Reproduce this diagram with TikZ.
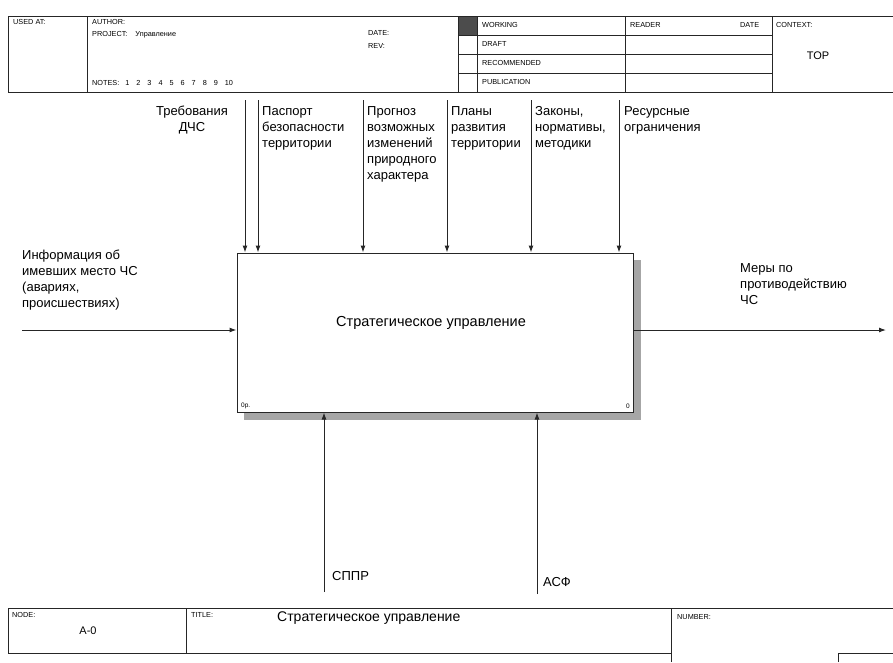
\documentclass[tikz,border=0pt]{standalone}
\usepackage{fontspec}
\setmainfont{Liberation Sans}
\usetikzlibrary{arrows.meta}
\begin{document}
\begin{tikzpicture}[x=1pt,y=-1pt,
  frame/.style={draw=black!85, line width=0.8pt},
  hdr/.style={font=\fontsize{7.3}{8}\selectfont, anchor=north west, inner sep=0pt},
  lbl/.style={font=\fontsize{13}{16}\selectfont, align=left, anchor=north west, inner sep=0pt},
  flow/.style={draw=black!85, line width=1pt, -{Latex[length=7pt,width=5pt]}},
  mainbox/.style={draw=black!85, line width=1pt, fill=white, minimum width=396pt, minimum height=159pt, inner sep=0pt},
]
\useasboundingbox (0,0) rectangle (893,662);
\fill[white] (0,0) rectangle (893,662);

% ---------- header ----------
\draw[frame] (893,16) -- (8,16) -- (8,92) -- (893,92);
\foreach \x in {87,458,477,625,772} \draw[frame] (\x,16) -- (\x,92);
\foreach \y in {35,54,73} \draw[frame] (458,\y) -- (772,\y);
\fill[black!70] (458.5,16.5) rectangle (476.5,34.5);
\node[hdr] (usedat) at (13,19) {USED AT:};
\node[hdr] (author) at (92,19) {AUTHOR:};
\node[hdr] (project) at (92,31) {PROJECT:\hspace{8pt}Управление};
\node[hdr] (notes) at (92,80) {NOTES:\hspace{6pt}1\hspace{7pt}2\hspace{7pt}3\hspace{7pt}4\hspace{7pt}5\hspace{7pt}6\hspace{7pt}7\hspace{7pt}8\hspace{7pt}9\hspace{7pt}10};
\node[hdr] (date1) at (368,30) {DATE:};
\node[hdr] (rev) at (368,43) {REV:};
\node[hdr] (working) at (482,22) {WORKING};
\node[hdr] (draft) at (482,41) {DRAFT};
\node[hdr] (recom) at (482,60) {RECOMMENDED};
\node[hdr] (publ) at (482,79) {PUBLICATION};
\node[hdr] (reader) at (630,22) {READER};
\node[hdr] (date2) at (740,22) {DATE};
\node[hdr] (context) at (776,22) {CONTEXT:};
\node[font=\fontsize{11}{13}\selectfont, inner sep=0pt] (top) at (818,56) {TOP};

% ---------- footer ----------
\draw[frame] (893,608) -- (8,608) -- (8,653) -- (671,653);
\draw[frame] (186,608) -- (186,653);
\draw[frame] (671,608) -- (671,662);
\draw[frame] (838,662) -- (838,653) -- (893,653);
\node[hdr] (nodelbl) at (12,612) {NODE:};
\node[font=\fontsize{11}{13}\selectfont, inner sep=0pt] (nodenum) at (88,631) {A-0};
\node[hdr] (titlelbl) at (191,612) {TITLE:};
\node[font=\fontsize{14}{16}\selectfont, anchor=north west, inner sep=0pt] (title) at (277,612) {Стратегическое управление};
\node[hdr] (numlbl) at (677,614) {NUMBER:};

% ---------- main box ----------
\fill[black!35] (244,260) rectangle (641,420);
\node[mainbox] (A0) at (435,332.5) {};
\node[font=\fontsize{14.5}{16}\selectfont, inner sep=0pt] (A0txt) at (431,323) {Стратегическое управление};
\node[font=\fontsize{6.5}{7}\selectfont, anchor=south west, inner sep=0pt] (cost) at (241,409) {0р.};
\node[font=\fontsize{6.5}{7}\selectfont, anchor=south east, inner sep=0pt] (num) at (630,409) {0};

% ---------- controls (top) ----------
\coordinate (c1) at (245,100);
\coordinate (c2) at (258,100);
\coordinate (c3) at (363,100);
\coordinate (c4) at (447,100);
\coordinate (c5) at (531,100);
\coordinate (c6) at (619,100);
\foreach \c in {c1,c2,c3,c4,c5,c6} \draw[flow] (\c) -- (\c |- A0.north);

\node[font=\fontsize{13}{16}\selectfont, align=center, inner sep=0pt, anchor=north] (t1) at (192,106) {Требования\\ДЧС};
\node[lbl] (t2) at (262,106) {Паспорт\\безопасности\\территории};
\node[lbl] (t3) at (367,106) {Прогноз\\возможных\\изменений\\природного\\характера};
\node[lbl] (t4) at (451,106) {Планы\\развития\\территории};
\node[lbl] (t5) at (535,106) {Законы,\\нормативы,\\методики};
\node[lbl] (t6) at (624,106) {Ресурсные\\ограничения};

% ---------- input ----------
\coordinate (in1) at (22,330);
\draw[flow] (in1) -- (in1 -| A0.west);
\node[lbl] (t7) at (22,250) {Информация об\\имевших место ЧС\\(авариях,\\происшествиях)};

% ---------- output ----------
\coordinate (out1) at (886,330);
\draw[flow] (out1 -| A0.east) -- (out1);
\node[lbl] (t8) at (740,263) {Меры по\\противодействию\\ЧС};

% ---------- mechanisms (bottom) ----------
\coordinate (m1) at (324,592);
\coordinate (m2) at (537,594);
\draw[flow] (m1) -- (m1 |- A0.south);
\draw[flow] (m2) -- (m2 |- A0.south);
\node[lbl] (t9) at (332,571) {СППР};
\node[lbl] (t10) at (543,577) {АСФ};
\end{tikzpicture}
\end{document}
